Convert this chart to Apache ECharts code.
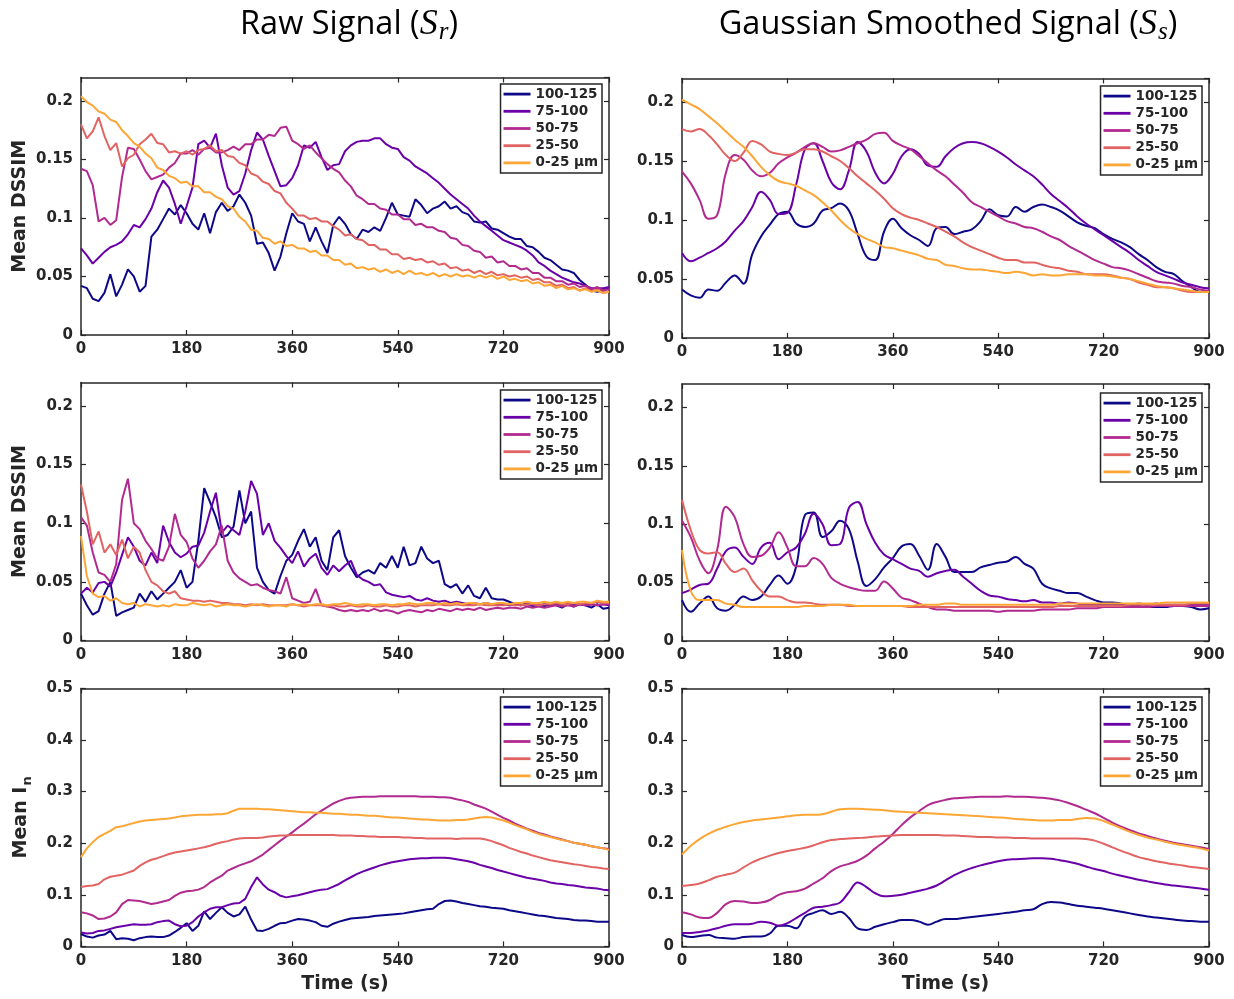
<!DOCTYPE html>
<html>
<head>
<meta charset="utf-8">
<script src="https://cdn.jsdelivr.net/npm/echarts@6/dist/echarts.min.js"></script>
<style>
  html, body { margin: 0; padding: 0; background: #ffffff; }
  #chart { width: 1234px; height: 999px; }
</style>
</head>
<body>
<div id="chart"></div>
<script>
// Depth classes (distance from the surface) and their plasma colours
const depthLabels = ['100-125', '75-100', '50-75', '25-50', '0-25 µm'];
const depthColors = ['#0d0887', '#6a00a8', '#b12a90', '#e16462', '#fca636'];

// Sampling steps (s) of the stored curves: raw every 10 s, smoothed every 15 s
const rawStep = 10;
const smoothStep = 15;

// ---------- Mean DSSIM, first experiment: raw signal (t = 0..900 s, every 10 s)
const dssimA_raw_d100 = [
  0.042,0.040,0.031,0.029,0.036,0.052,0.033,0.043,0.056,0.050,
  0.037,0.042,0.084,0.090,0.099,0.108,0.103,0.111,0.104,0.095,
  0.090,0.104,0.087,0.105,0.113,0.106,0.110,0.120,0.113,0.102,
  0.078,0.079,0.070,0.055,0.067,0.087,0.104,0.097,0.095,0.080,
  0.092,0.080,0.070,0.094,0.101,0.095,0.086,0.082,0.090,0.088,
  0.092,0.089,0.100,0.113,0.103,0.102,0.101,0.116,0.111,0.104,
  0.108,0.110,0.114,0.108,0.110,0.105,0.103,0.097,0.096,0.097,
  0.091,0.090,0.087,0.084,0.082,0.082,0.076,0.075,0.071,0.066,
  0.064,0.060,0.056,0.055,0.053,0.047,0.043,0.038,0.037,0.038,
  0.040];
const dssimA_raw_d75 = [
  0.074,0.068,0.061,0.066,0.071,0.075,0.077,0.080,0.086,0.094,
  0.092,0.099,0.108,0.122,0.132,0.126,0.112,0.095,0.110,0.126,
  0.163,0.166,0.160,0.172,0.145,0.126,0.120,0.123,0.138,0.158,
  0.173,0.167,0.153,0.140,0.127,0.128,0.134,0.145,0.162,0.160,
  0.165,0.152,0.141,0.145,0.146,0.157,0.162,0.165,0.166,0.166,
  0.168,0.168,0.163,0.160,0.159,0.152,0.149,0.144,0.141,0.138,
  0.134,0.130,0.125,0.120,0.116,0.112,0.108,0.102,0.097,0.093,
  0.089,0.085,0.081,0.079,0.077,0.075,0.072,0.068,0.062,0.059,
  0.055,0.052,0.049,0.047,0.045,0.044,0.042,0.040,0.040,0.040,
  0.041];
const dssimA_raw_d50 = [
  0.142,0.140,0.128,0.097,0.100,0.094,0.098,0.135,0.160,0.159,
  0.150,0.140,0.133,0.135,0.137,0.143,0.147,0.155,0.155,0.158,
  0.154,0.159,0.160,0.156,0.156,0.158,0.161,0.158,0.163,0.163,
  0.167,0.167,0.171,0.170,0.177,0.178,0.166,0.163,0.159,0.162,
  0.156,0.151,0.146,0.142,0.139,0.132,0.127,0.119,0.116,0.112,
  0.112,0.108,0.107,0.103,0.103,0.099,0.099,0.094,0.095,0.092,
  0.092,0.089,0.088,0.083,0.082,0.077,0.076,0.072,0.071,0.066,
  0.067,0.062,0.063,0.059,0.059,0.056,0.057,0.053,0.053,0.049,
  0.049,0.046,0.046,0.043,0.044,0.041,0.042,0.039,0.041,0.038,
  0.039];
const dssimA_raw_d25 = [
  0.180,0.168,0.174,0.186,0.170,0.158,0.164,0.144,0.151,0.154,
  0.163,0.167,0.172,0.164,0.163,0.156,0.157,0.155,0.157,0.154,
  0.158,0.159,0.162,0.157,0.158,0.153,0.152,0.147,0.145,0.138,
  0.136,0.131,0.129,0.123,0.121,0.113,0.108,0.102,0.102,0.099,
  0.100,0.097,0.097,0.093,0.090,0.085,0.086,0.082,0.081,0.077,
  0.077,0.073,0.073,0.069,0.069,0.065,0.066,0.064,0.065,0.062,
  0.063,0.060,0.061,0.057,0.058,0.055,0.056,0.053,0.055,0.052,
  0.054,0.051,0.052,0.050,0.051,0.049,0.050,0.047,0.048,0.045,
  0.045,0.042,0.043,0.040,0.041,0.038,0.040,0.037,0.039,0.036,
  0.037];
const dssimA_raw_d0 = [
  0.204,0.199,0.196,0.191,0.189,0.184,0.182,0.175,0.170,0.164,
  0.161,0.155,0.151,0.143,0.141,0.136,0.134,0.130,0.131,0.127,
  0.127,0.122,0.122,0.118,0.116,0.110,0.108,0.101,0.097,0.090,
  0.089,0.083,0.082,0.078,0.080,0.076,0.077,0.074,0.074,0.071,
  0.072,0.068,0.068,0.064,0.064,0.060,0.061,0.057,0.058,0.056,
  0.057,0.054,0.056,0.053,0.055,0.052,0.055,0.052,0.053,0.051,
  0.053,0.050,0.052,0.050,0.052,0.050,0.051,0.049,0.051,0.049,
  0.051,0.048,0.050,0.047,0.048,0.046,0.047,0.044,0.045,0.042,
  0.043,0.040,0.042,0.039,0.040,0.038,0.039,0.037,0.038,0.036,
  0.037];

// ---------- Mean DSSIM, first experiment: Gaussian smoothed (every 15 s)
const dssimA_sm_d100 = [
  0.041,0.036,0.034,0.041,0.040,0.047,0.053,0.046,0.071,0.086,
  0.096,0.105,0.107,0.097,0.094,0.097,0.108,0.110,0.114,0.108,
  0.088,0.069,0.066,0.090,0.101,0.093,0.087,0.083,0.078,0.093,
  0.094,0.088,0.090,0.092,0.099,0.109,0.104,0.103,0.111,0.107,
  0.111,0.113,0.111,0.108,0.103,0.098,0.095,0.093,0.088,0.084,
  0.081,0.077,0.071,0.066,0.060,0.056,0.054,0.048,0.043,0.039,
  0.040];
const dssimA_sm_d75 = [
  0.072,0.065,0.068,0.072,0.076,0.082,0.091,0.099,0.111,0.124,
  0.117,0.105,0.106,0.130,0.160,0.165,0.150,0.132,0.126,0.142,
  0.166,0.158,0.140,0.131,0.139,0.154,0.160,0.156,0.146,0.145,
  0.154,0.161,0.165,0.166,0.165,0.162,0.158,0.153,0.147,0.142,
  0.137,0.130,0.122,0.116,0.110,0.103,0.097,0.092,0.087,0.082,
  0.077,0.072,0.066,0.061,0.056,0.053,0.050,0.047,0.045,0.043,
  0.042];
const dssimA_sm_d50 = [
  0.141,0.131,0.117,0.101,0.104,0.140,0.155,0.151,0.142,0.137,
  0.140,0.148,0.153,0.157,0.162,0.165,0.162,0.158,0.159,0.162,
  0.165,0.168,0.173,0.174,0.167,0.163,0.160,0.154,0.148,0.142,
  0.137,0.130,0.123,0.115,0.111,0.107,0.103,0.099,0.097,0.094,
  0.093,0.090,0.086,0.083,0.078,0.074,0.070,0.066,0.063,0.060,
  0.059,0.057,0.054,0.051,0.048,0.047,0.046,0.044,0.043,0.041,
  0.040];
const dssimA_sm_d25 = [
  0.177,0.175,0.177,0.172,0.164,0.155,0.150,0.157,0.167,0.164,
  0.158,0.156,0.155,0.157,0.160,0.160,0.158,0.154,0.150,0.144,
  0.137,0.131,0.125,0.118,0.110,0.105,0.102,0.100,0.097,0.094,
  0.090,0.086,0.081,0.077,0.074,0.071,0.068,0.066,0.066,0.064,
  0.064,0.062,0.060,0.059,0.057,0.056,0.054,0.054,0.054,0.053,
  0.051,0.050,0.047,0.045,0.043,0.043,0.042,0.040,0.039,0.039,
  0.039];
const dssimA_sm_d0 = [
  0.202,0.198,0.194,0.188,0.182,0.175,0.168,0.162,0.154,0.145,
  0.138,0.133,0.131,0.129,0.125,0.121,0.115,0.108,0.100,0.093,
  0.088,0.084,0.081,0.077,0.076,0.074,0.072,0.070,0.067,0.066,
  0.062,0.061,0.059,0.058,0.058,0.057,0.056,0.055,0.056,0.055,
  0.053,0.054,0.053,0.053,0.054,0.054,0.054,0.053,0.053,0.052,
  0.051,0.050,0.048,0.046,0.044,0.043,0.042,0.041,0.040,0.039,
  0.039];

// ---------- Mean DSSIM, second experiment: raw signal (every 10 s)
const dssimB_raw_d100 = [
  0.040,0.030,0.022,0.025,0.040,0.050,0.021,0.024,0.026,0.028,
  0.040,0.033,0.042,0.035,0.040,0.045,0.050,0.060,0.045,0.050,
  0.085,0.130,0.118,0.105,0.088,0.090,0.097,0.128,0.100,0.110,
  0.062,0.050,0.043,0.040,0.055,0.068,0.073,0.085,0.095,0.080,
  0.088,0.068,0.060,0.088,0.094,0.072,0.062,0.054,0.058,0.060,
  0.057,0.066,0.062,0.072,0.062,0.080,0.064,0.066,0.080,0.070,
  0.066,0.068,0.048,0.045,0.048,0.040,0.047,0.038,0.036,0.045,
  0.036,0.035,0.035,0.033,0.031,0.030,0.032,0.029,0.031,0.029,
  0.032,0.030,0.028,0.031,0.029,0.031,0.030,0.028,0.031,0.027,
  0.028];
const dssimB_raw_d75 = [
  0.040,0.045,0.041,0.049,0.050,0.046,0.058,0.073,0.088,0.080,
  0.068,0.064,0.075,0.066,0.098,0.084,0.075,0.071,0.074,0.080,
  0.081,0.092,0.110,0.126,0.092,0.098,0.094,0.090,0.110,0.136,
  0.125,0.090,0.100,0.085,0.079,0.072,0.066,0.076,0.063,0.070,
  0.074,0.062,0.056,0.064,0.059,0.064,0.068,0.056,0.052,0.050,
  0.047,0.048,0.041,0.039,0.038,0.037,0.038,0.035,0.034,0.036,
  0.034,0.033,0.034,0.032,0.033,0.032,0.031,0.032,0.031,0.032,
  0.031,0.030,0.031,0.030,0.031,0.030,0.031,0.030,0.030,0.031,
  0.030,0.031,0.030,0.031,0.030,0.031,0.030,0.031,0.030,0.031,
  0.030];
const dssimB_raw_d50 = [
  0.105,0.098,0.075,0.058,0.056,0.050,0.065,0.120,0.138,0.100,
  0.095,0.085,0.078,0.070,0.068,0.080,0.108,0.090,0.084,0.070,
  0.062,0.068,0.076,0.082,0.098,0.068,0.058,0.053,0.050,0.047,
  0.048,0.045,0.043,0.042,0.040,0.054,0.036,0.034,0.032,0.033,
  0.044,0.030,0.029,0.028,0.026,0.025,0.026,0.025,0.026,0.025,
  0.027,0.025,0.026,0.025,0.023,0.025,0.026,0.025,0.024,0.026,
  0.025,0.027,0.026,0.025,0.027,0.026,0.027,0.026,0.028,0.026,
  0.027,0.028,0.027,0.028,0.028,0.027,0.029,0.028,0.029,0.028,
  0.029,0.030,0.029,0.030,0.029,0.031,0.030,0.031,0.030,0.031,
  0.031];
const dssimB_raw_d25 = [
  0.133,0.110,0.082,0.093,0.075,0.082,0.073,0.086,0.070,0.080,
  0.075,0.060,0.050,0.047,0.042,0.040,0.042,0.036,0.035,0.034,
  0.034,0.033,0.034,0.033,0.032,0.032,0.031,0.031,0.030,0.031,
  0.030,0.031,0.030,0.030,0.030,0.030,0.031,0.030,0.029,0.030,
  0.030,0.030,0.029,0.030,0.029,0.029,0.030,0.029,0.029,0.030,
  0.029,0.029,0.030,0.029,0.029,0.030,0.030,0.029,0.030,0.030,
  0.030,0.031,0.030,0.030,0.031,0.030,0.030,0.030,0.031,0.030,
  0.030,0.030,0.030,0.031,0.030,0.030,0.031,0.031,0.030,0.031,
  0.031,0.032,0.031,0.031,0.032,0.031,0.032,0.032,0.033,0.032,
  0.032];
const dssimB_raw_d0 = [
  0.089,0.055,0.040,0.037,0.038,0.034,0.036,0.032,0.031,0.032,
  0.029,0.031,0.030,0.029,0.030,0.029,0.031,0.030,0.030,0.032,
  0.031,0.030,0.031,0.029,0.030,0.031,0.030,0.030,0.029,0.030,
  0.031,0.030,0.029,0.030,0.030,0.029,0.031,0.030,0.031,0.030,
  0.031,0.031,0.030,0.031,0.031,0.032,0.031,0.030,0.031,0.031,
  0.030,0.031,0.031,0.030,0.031,0.031,0.032,0.031,0.031,0.032,
  0.032,0.031,0.032,0.031,0.032,0.031,0.032,0.032,0.031,0.032,
  0.031,0.032,0.032,0.031,0.032,0.032,0.033,0.032,0.032,0.033,
  0.032,0.033,0.032,0.033,0.032,0.033,0.033,0.032,0.034,0.033,
  0.033];

// ---------- Mean DSSIM, second experiment: Gaussian smoothed (every 15 s)
const dssimB_sm_d100 = [
  0.035,0.025,0.032,0.038,0.028,0.026,0.031,0.038,0.035,0.038,
  0.048,0.056,0.049,0.064,0.108,0.110,0.089,0.094,0.103,0.096,
  0.068,0.047,0.053,0.063,0.071,0.081,0.083,0.073,0.061,0.083,
  0.072,0.059,0.059,0.059,0.063,0.065,0.067,0.068,0.072,0.066,
  0.062,0.049,0.045,0.043,0.041,0.041,0.038,0.035,0.033,0.033,
  0.032,0.031,0.030,0.029,0.029,0.029,0.030,0.030,0.029,0.027,
  0.028];
const dssimB_sm_d75 = [
  0.041,0.044,0.048,0.049,0.062,0.077,0.080,0.072,0.066,0.080,
  0.084,0.070,0.076,0.080,0.092,0.109,0.100,0.082,0.083,0.114,
  0.119,0.100,0.084,0.074,0.070,0.066,0.062,0.060,0.055,0.058,
  0.060,0.061,0.055,0.049,0.043,0.039,0.038,0.036,0.035,0.034,
  0.035,0.033,0.033,0.032,0.033,0.032,0.031,0.031,0.031,0.031,
  0.031,0.031,0.032,0.031,0.032,0.031,0.031,0.031,0.031,0.031,
  0.031];
const dssimB_sm_d50 = [
  0.103,0.089,0.069,0.058,0.078,0.115,0.106,0.083,0.072,0.073,
  0.080,0.093,0.080,0.064,0.064,0.071,0.066,0.054,0.049,0.046,
  0.044,0.043,0.043,0.051,0.045,0.037,0.035,0.032,0.029,0.027,
  0.027,0.026,0.026,0.026,0.026,0.026,0.025,0.026,0.026,0.026,
  0.026,0.027,0.027,0.027,0.027,0.028,0.028,0.028,0.029,0.029,
  0.029,0.029,0.029,0.029,0.030,0.030,0.030,0.030,0.030,0.030,
  0.030];
const dssimB_sm_d25 = [
  0.121,0.095,0.078,0.075,0.076,0.066,0.059,0.062,0.052,0.043,
  0.038,0.038,0.035,0.033,0.033,0.032,0.031,0.031,0.031,0.030,
  0.030,0.030,0.030,0.030,0.030,0.030,0.029,0.029,0.029,0.029,
  0.029,0.029,0.029,0.029,0.029,0.029,0.029,0.029,0.029,0.029,
  0.029,0.029,0.029,0.030,0.030,0.030,0.030,0.030,0.030,0.030,
  0.030,0.031,0.031,0.031,0.031,0.031,0.031,0.031,0.032,0.032,
  0.032];
const dssimB_sm_d0 = [
  0.078,0.043,0.035,0.035,0.035,0.032,0.031,0.029,0.029,0.029,
  0.029,0.029,0.029,0.029,0.030,0.030,0.030,0.031,0.031,0.031,
  0.030,0.030,0.030,0.030,0.030,0.030,0.030,0.031,0.031,0.031,
  0.032,0.032,0.031,0.031,0.031,0.031,0.031,0.031,0.031,0.031,
  0.031,0.031,0.031,0.032,0.032,0.032,0.032,0.032,0.032,0.032,
  0.032,0.032,0.032,0.032,0.032,0.033,0.033,0.033,0.033,0.033,
  0.033];

// ---------- Mean normalised intensity I_n: raw signal (every 10 s)
const intensity_raw_d100 = [
  0.024,0.019,0.017,0.021,0.023,0.030,0.014,0.016,0.015,0.012,
  0.016,0.018,0.019,0.018,0.018,0.021,0.028,0.036,0.045,0.030,
  0.040,0.068,0.053,0.065,0.076,0.065,0.058,0.062,0.077,0.052,
  0.031,0.030,0.034,0.040,0.045,0.046,0.050,0.053,0.052,0.050,
  0.047,0.040,0.038,0.044,0.048,0.051,0.054,0.055,0.056,0.057,
  0.059,0.060,0.061,0.062,0.063,0.064,0.066,0.068,0.070,0.072,
  0.073,0.082,0.088,0.089,0.087,0.084,0.082,0.080,0.078,0.077,
  0.075,0.074,0.073,0.070,0.068,0.066,0.064,0.062,0.060,0.059,
  0.057,0.055,0.054,0.053,0.051,0.050,0.050,0.049,0.048,0.048,
  0.048];
const intensity_raw_d75 = [
  0.027,0.025,0.026,0.030,0.031,0.034,0.037,0.039,0.041,0.043,
  0.042,0.042,0.043,0.047,0.049,0.050,0.043,0.039,0.040,0.047,
  0.058,0.066,0.073,0.076,0.076,0.080,0.083,0.084,0.092,0.115,
  0.134,0.120,0.110,0.105,0.098,0.095,0.097,0.099,0.102,0.105,
  0.108,0.110,0.111,0.116,0.121,0.128,0.134,0.140,0.145,0.149,
  0.153,0.157,0.160,0.163,0.165,0.167,0.169,0.170,0.171,0.171,
  0.172,0.172,0.172,0.171,0.169,0.167,0.165,0.162,0.158,0.155,
  0.152,0.148,0.145,0.142,0.139,0.136,0.133,0.131,0.129,0.127,
  0.124,0.122,0.121,0.119,0.118,0.116,0.114,0.113,0.112,0.110,
  0.109];
const intensity_raw_d50 = [
  0.066,0.064,0.060,0.053,0.054,0.058,0.066,0.082,0.090,0.089,
  0.088,0.085,0.082,0.084,0.087,0.090,0.098,0.104,0.107,0.108,
  0.110,0.115,0.124,0.131,0.137,0.147,0.152,0.157,0.161,0.165,
  0.171,0.178,0.187,0.196,0.205,0.213,0.221,0.230,0.238,0.247,
  0.256,0.263,0.270,0.277,0.282,0.286,0.288,0.289,0.290,0.290,
  0.290,0.291,0.291,0.291,0.291,0.291,0.291,0.291,0.290,0.290,
  0.290,0.289,0.289,0.288,0.285,0.283,0.280,0.275,0.271,0.267,
  0.261,0.255,0.249,0.244,0.238,0.233,0.228,0.224,0.220,0.217,
  0.213,0.210,0.207,0.204,0.201,0.199,0.197,0.194,0.192,0.190,
  0.189];
const intensity_raw_d25 = [
  0.115,0.117,0.118,0.121,0.130,0.135,0.137,0.139,0.143,0.147,
  0.156,0.163,0.168,0.171,0.175,0.179,0.182,0.184,0.186,0.188,
  0.190,0.192,0.195,0.199,0.202,0.204,0.207,0.209,0.210,0.210,
  0.210,0.211,0.213,0.214,0.215,0.215,0.216,0.216,0.216,0.216,
  0.216,0.216,0.216,0.216,0.215,0.215,0.215,0.214,0.214,0.213,
  0.213,0.212,0.212,0.212,0.212,0.211,0.211,0.210,0.210,0.209,
  0.209,0.209,0.209,0.209,0.208,0.209,0.209,0.209,0.209,0.207,
  0.204,0.200,0.196,0.191,0.187,0.183,0.180,0.176,0.173,0.170,
  0.167,0.165,0.163,0.161,0.159,0.158,0.156,0.154,0.153,0.151,
  0.150];
const intensity_raw_d0 = [
  0.173,0.190,0.202,0.212,0.218,0.224,0.231,0.233,0.236,0.239,
  0.242,0.244,0.245,0.246,0.247,0.248,0.250,0.252,0.253,0.254,
  0.255,0.255,0.255,0.256,0.256,0.258,0.263,0.267,0.267,0.267,
  0.267,0.266,0.266,0.265,0.264,0.263,0.262,0.261,0.260,0.260,
  0.259,0.259,0.258,0.257,0.257,0.256,0.255,0.255,0.254,0.253,
  0.253,0.252,0.251,0.250,0.250,0.249,0.248,0.247,0.246,0.246,
  0.245,0.244,0.244,0.244,0.245,0.245,0.246,0.248,0.250,0.251,
  0.250,0.247,0.244,0.240,0.235,0.231,0.227,0.222,0.218,0.215,
  0.212,0.209,0.206,0.204,0.201,0.199,0.197,0.194,0.192,0.190,
  0.187];

// ---------- Mean normalised intensity I_n: Gaussian smoothed (every 15 s)
const intensity_sm_d100 = [
  0.022,0.018,0.020,0.022,0.017,0.016,0.015,0.018,0.019,0.019,
  0.025,0.040,0.040,0.035,0.058,0.065,0.070,0.063,0.067,0.055,
  0.035,0.032,0.038,0.043,0.047,0.051,0.051,0.048,0.042,0.048,
  0.053,0.053,0.055,0.057,0.059,0.061,0.063,0.065,0.067,0.070,
  0.072,0.082,0.086,0.085,0.082,0.079,0.077,0.075,0.073,0.070,
  0.067,0.064,0.061,0.058,0.056,0.054,0.052,0.050,0.049,0.048,
  0.048];
const intensity_sm_d75 = [
  0.026,0.026,0.028,0.031,0.035,0.040,0.043,0.043,0.044,0.048,
  0.046,0.040,0.045,0.055,0.065,0.075,0.077,0.080,0.085,0.105,
  0.124,0.115,0.103,0.097,0.098,0.100,0.104,0.108,0.112,0.118,
  0.128,0.138,0.146,0.152,0.157,0.161,0.165,0.168,0.169,0.170,
  0.171,0.171,0.170,0.167,0.164,0.160,0.155,0.150,0.146,0.141,
  0.137,0.133,0.129,0.126,0.123,0.120,0.118,0.116,0.114,0.112,
  0.110];
const intensity_sm_d50 = [
  0.066,0.062,0.056,0.055,0.065,0.082,0.088,0.087,0.084,0.085,
  0.090,0.100,0.105,0.107,0.112,0.122,0.132,0.146,0.155,0.160,
  0.166,0.176,0.190,0.203,0.218,0.235,0.250,0.262,0.274,0.280,
  0.284,0.287,0.288,0.289,0.290,0.290,0.290,0.291,0.290,0.290,
  0.289,0.288,0.286,0.283,0.278,0.272,0.265,0.258,0.249,0.240,
  0.232,0.225,0.219,0.214,0.209,0.205,0.201,0.198,0.195,0.192,
  0.189];
const intensity_sm_d25 = [
  0.117,0.119,0.122,0.128,0.135,0.139,0.143,0.153,0.163,0.170,
  0.176,0.181,0.185,0.188,0.191,0.196,0.202,0.206,0.208,0.209,
  0.210,0.211,0.213,0.214,0.215,0.216,0.216,0.216,0.216,0.216,
  0.215,0.215,0.214,0.213,0.212,0.212,0.211,0.211,0.210,0.210,
  0.209,0.209,0.209,0.209,0.209,0.209,0.208,0.205,0.199,0.192,
  0.185,0.179,0.173,0.169,0.165,0.162,0.159,0.157,0.154,0.152,
  0.150];
const intensity_sm_d0 = [
  0.178,0.195,0.208,0.218,0.226,0.232,0.237,0.241,0.244,0.246,
  0.248,0.250,0.252,0.254,0.255,0.255,0.256,0.261,0.266,0.267,
  0.267,0.266,0.265,0.264,0.262,0.261,0.260,0.259,0.258,0.257,
  0.256,0.255,0.254,0.253,0.252,0.251,0.250,0.249,0.247,0.246,
  0.245,0.244,0.244,0.245,0.245,0.247,0.249,0.248,0.243,0.236,
  0.229,0.222,0.216,0.211,0.207,0.203,0.199,0.196,0.193,0.190,
  0.186];

// ---------- Panel layout (pixels) and axis set-up
const panels = [
  { left: 81,  top: 77.5,  width: 528, height: 257.5, yMax: 0.22, yStep: 0.05, step: rawStep,    smooth: false,
    curves: [dssimA_raw_d100, dssimA_raw_d75, dssimA_raw_d50, dssimA_raw_d25, dssimA_raw_d0],
    yName: 'Mean DSSIM', legendRight: 632, legendTop: 84 },
  { left: 682, top: 78.4,  width: 527, height: 259.5, yMax: 0.22, yStep: 0.05, step: smoothStep, smooth: true,
    curves: [dssimA_sm_d100, dssimA_sm_d75, dssimA_sm_d50, dssimA_sm_d25, dssimA_sm_d0],
    legendRight: 32, legendTop: 86 },
  { left: 81,  top: 382.5, width: 528, height: 258, yMax: 0.22, yStep: 0.05, step: rawStep,    smooth: false,
    curves: [dssimB_raw_d100, dssimB_raw_d75, dssimB_raw_d50, dssimB_raw_d25, dssimB_raw_d0],
    yName: 'Mean DSSIM', legendRight: 632, legendTop: 390 },
  { left: 682, top: 384,   width: 527, height: 257, yMax: 0.22, yStep: 0.05, step: smoothStep, smooth: true,
    curves: [dssimB_sm_d100, dssimB_sm_d75, dssimB_sm_d50, dssimB_sm_d25, dssimB_sm_d0],
    legendRight: 32, legendTop: 393 },
  { left: 81,  top: 688.4, width: 528, height: 258, yMax: 0.5, yStep: 0.1, step: rawStep,    smooth: false,
    curves: [intensity_raw_d100, intensity_raw_d75, intensity_raw_d50, intensity_raw_d25, intensity_raw_d0],
    yName: 'Mean I{sub|n}', xName: 'Time (s)', legendRight: 632, legendTop: 697 },
  { left: 682, top: 688.4, width: 527, height: 258, yMax: 0.5, yStep: 0.1, step: smoothStep, smooth: true,
    curves: [intensity_sm_d100, intensity_sm_d75, intensity_sm_d50, intensity_sm_d25, intensity_sm_d0],
    xName: 'Time (s)', legendRight: 32, legendTop: 697 }
];

const ink = '#262626';
const labelFont = 'DejaVu Sans';
const axisLine = { show: true, onZero: false, lineStyle: { color: ink, width: 1.5 } };
const axisTick = { show: true, inside: true, length: 5, lineStyle: { color: ink, width: 1.2 } };
const tickLabel = { color: ink, fontFamily: labelFont, fontWeight: 'bold', fontSize: 15 };
const nameStyle = {
  color: ink, fontFamily: labelFont, fontWeight: 'bold', fontSize: 19,
  rich: { sub: { color: ink, fontFamily: labelFont, fontWeight: 'bold', fontSize: 13, padding: [12, 0, 0, 1] } }
};

const grid = [], xAxis = [], yAxis = [], series = [], legend = [];

panels.forEach((p, i) => {
  grid.push({ left: p.left, top: p.top, width: p.width, height: p.height });

  xAxis.push({
    gridIndex: i, type: 'value', min: 0, max: 900, interval: 180, position: 'bottom',
    axisLine, axisTick, splitLine: { show: false },
    axisLabel: Object.assign({ margin: 7 }, tickLabel),
    name: p.xName || '', nameLocation: 'middle', nameGap: 28, nameTextStyle: nameStyle
  });
  xAxis.push({
    gridIndex: i, type: 'value', min: 0, max: 900, interval: 180, position: 'top',
    axisLine, axisTick, splitLine: { show: false }, axisLabel: { show: false }
  });
  yAxis.push({
    gridIndex: i, type: 'value', min: 0, max: p.yMax, interval: p.yStep, position: 'left',
    axisLine, axisTick, splitLine: { show: false },
    axisLabel: Object.assign({ margin: 8, showMaxLabel: p.yMax === 0.5 }, tickLabel),
    name: p.yName || '', nameLocation: 'middle', nameGap: p.yMax === 0.5 ? 47 : 51, nameTextStyle: nameStyle
  });
  yAxis.push({
    gridIndex: i, type: 'value', min: 0, max: p.yMax, interval: p.yStep, position: 'right',
    axisLine, axisTick, splitLine: { show: false }, axisLabel: { show: false }
  });

  p.curves.forEach((vals, k) => {
    series.push({
      type: 'line', name: depthLabels[k],
      xAxisIndex: 2 * i, yAxisIndex: 2 * i,
      data: vals.map((v, j) => [j * p.step, v]),
      showSymbol: false, symbol: 'none',
      smooth: p.smooth ? 0.4 : false,
      lineStyle: { width: 2, color: depthColors[k] },
      itemStyle: { color: depthColors[k] },
      emphasis: { disabled: true },
      animation: false
    });
  });

  legend.push({
    orient: 'vertical', right: p.legendRight, top: p.legendTop,
    data: depthLabels, icon: 'rect', itemWidth: 27, itemHeight: 2.8, itemGap: 0,
    selectedMode: false,
    backgroundColor: '#ffffff', borderColor: ink, borderWidth: 1.5, borderRadius: 0,
    padding: [1.5, 4, 1.5, 3],
    textStyle: { color: ink, fontFamily: labelFont, fontWeight: 'bold', fontSize: 13.5, lineHeight: 17.2 }
  });
});

const titleRich = {
  t: { fontFamily: 'Open Sans', fontSize: 32.5, fill: '#000000' },
  m: { fontFamily: 'Liberation Serif', fontStyle: 'italic', fontSize: 36, fill: '#000000' },
  s: { fontFamily: 'Liberation Serif', fontStyle: 'italic', fontSize: 25, fill: '#000000', padding: [15, 0, 0, 1] }
};

const chart = echarts.init(document.getElementById('chart'), null, { renderer: 'canvas' });
chart.setOption({
  backgroundColor: '#ffffff',
  animation: false,
  grid, xAxis, yAxis, series, legend,
  graphic: [
    { type: 'text', x: 349, y: 25,
      style: { text: '{t|Raw Signal (}{m|S}{s|r}{t|)}', rich: titleRich, align: 'center', verticalAlign: 'middle' } },
    { type: 'text', x: 948, y: 25,
      style: { text: '{t|Gaussian Smoothed Signal (}{m|S}{s|s}{t|)}', rich: titleRich, align: 'center', verticalAlign: 'middle' } }
  ]
});
</script>
</body>
</html>
